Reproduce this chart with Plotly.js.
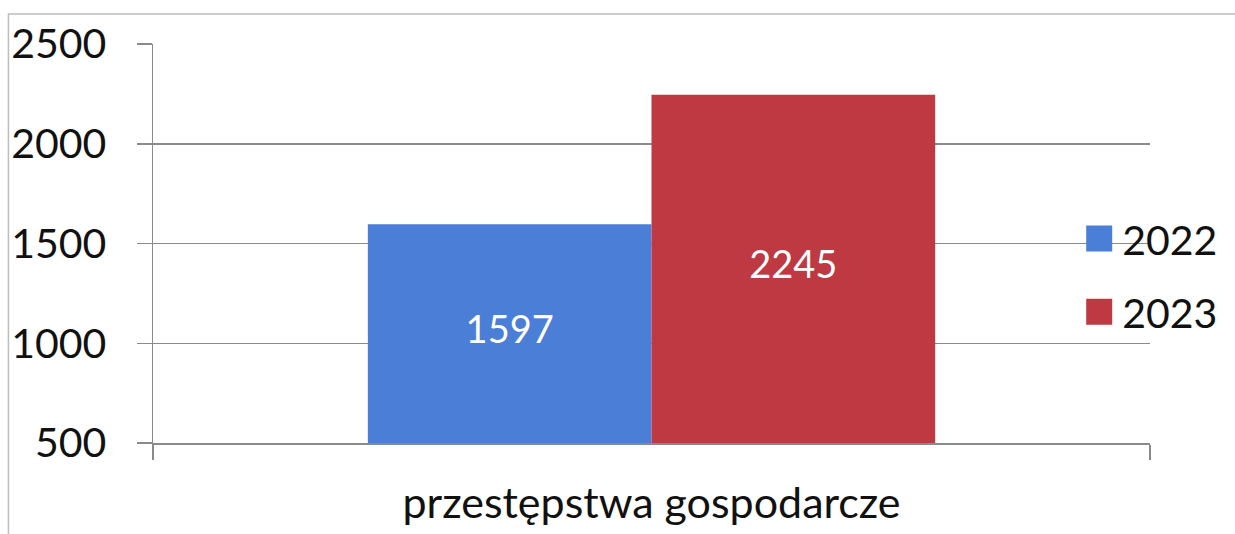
<!DOCTYPE html>
<html><head><meta charset="utf-8">
<script src="https://cdn.plot.ly/plotly-3.0.1.min.js"></script>
<style>html,body{margin:0;padding:0;background:#fff}#chart{width:1235px;height:534px}</style>
</head><body><div id="chart"></div>
<script>
const categories = ["przestępstwa gospodarcze"];
const seriesNames = ["2022", "2023"];
const values2022 = [1597];
const values2023 = [2245];
const colors = ["#4B7ED6", "#BE3942"];
const yTicks = [500, 1000, 1500, 2000, 2500];
const Y_MIN = 500, Y_MAX = 2500;

const FONT = "Lato, 'Open Sans', sans-serif";
const series = [values2022, values2023];

const barTraces = series.map((vals, i) => ({
  type: "bar",
  name: seriesNames[i],
  x: categories,
  y: vals,
  marker: {color: colors[i]},
  hoverinfo: "skip",
  legendgroup: "g" + i
}));

// value labels centred in the visible part of each bar (axis starts at Y_MIN)
const labelTraces = series.map((vals, i) => ({
  type: "scatter",
  mode: "text",
  orientation: "v",
  showlegend: false,
  x: categories,
  y: vals.map(v => (Y_MIN + v) / 2),
  text: vals.map(String),
  textposition: "middle center",
  textfont: {family: FONT, size: 38, color: "#ffffff"},
  hoverinfo: "skip",
  cliponaxis: false
}));

const layout = {
  width: 1235, height: 534,
  margin: {l: 153, r: 82, t: 44, b: 91, pad: 0},
  paper_bgcolor: "#ffffff", plot_bgcolor: "#ffffff",
  barmode: "group", bargap: 0.431, bargroupgap: 0,
  scattermode: "group", scattergap: 0.431,
  font: {family: FONT, size: 41, color: "#111111"},
  showlegend: true,
  legend: {x: 0.932, xanchor: "left", y: 0.42, yanchor: "middle",
           font: {family: FONT, size: 41, color: "#111111"},
           traceorder: "grouped", tracegroupgap: 17, bgcolor: "rgba(0,0,0,0)"},
  xaxis: {type: "category", showgrid: false, showline: true, linecolor: "#8a8a8a", linewidth: 1.5,
          ticks: "outside", tickson: "boundaries", ticklen: 15, tickcolor: "#8a8a8a", tickwidth: 1.5,
          tickfont: {family: FONT, size: 43, color: "#111111"}, ticklabelstandoff: 22},
  yaxis: {range: [Y_MIN, Y_MAX], tickvals: yTicks, ticktext: yTicks.map(String),
          showgrid: true, gridcolor: "#8a8a8a", gridwidth: 1.5, zeroline: false,
          showline: true, linecolor: "#8a8a8a", linewidth: 1.5,
          ticks: "outside", ticklen: 15, tickcolor: "#8a8a8a", tickwidth: 1.5,
          ticklabelstandoff: 22,
          tickfont: {family: FONT, size: 41, color: "#111111"}},
  shapes: [{type: "rect", xref: "paper", yref: "paper", x0: -0.145, x1: 1.2, y0: -0.4, y1: 1.075,
            line: {color: "#bdbdbd", width: 1.5}, layer: "below"}]
};

Plotly.newPlot("chart", barTraces.concat(labelTraces), layout, {displayModeBar: false, staticPlot: true}).then(gd => {
  document.querySelectorAll(".legendpoints path").forEach(p => {
    p.setAttribute("d", "M10,13H-16V-13H10Z");
  });
});
</script>
</body></html>
